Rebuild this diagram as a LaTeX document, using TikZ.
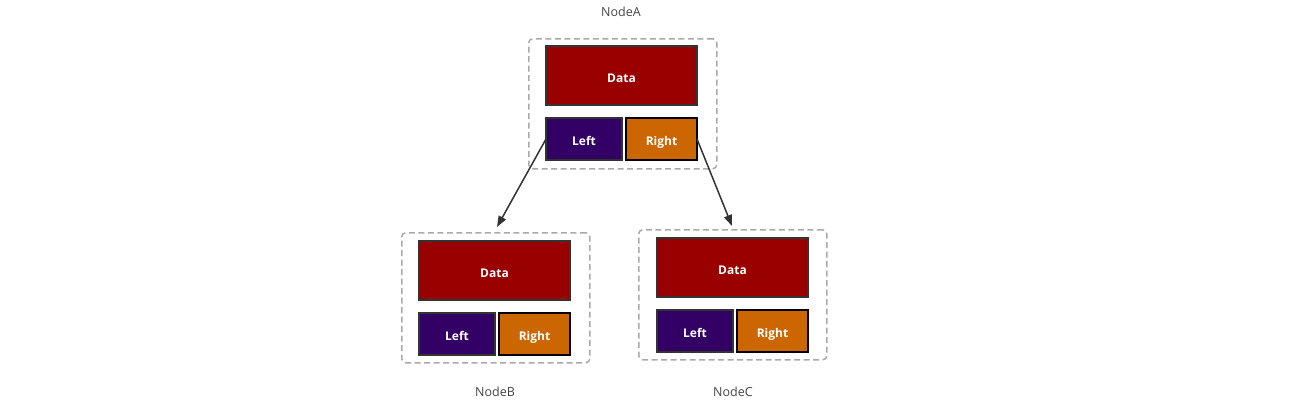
\documentclass[tikz,border=0pt]{standalone}
\usepackage{fontspec}
\setmainfont{Open Sans}
\usetikzlibrary{arrows.meta}
\definecolor{datac}{HTML}{990000}
\definecolor{leftc}{HTML}{330066}
\definecolor{rightc}{HTML}{CC6600}
\definecolor{edgec}{HTML}{333333}
\definecolor{clc}{HTML}{AAAAAA}
\definecolor{labc}{HTML}{444444}
\begin{document}
\begin{tikzpicture}[x=1pt,y=-1pt,
  box/.style={anchor=north west,inner sep=0pt,outer sep=0pt,text=white,
    font=\fontsize{12}{14}\selectfont\bfseries,text height=13pt,text depth=0pt},
  databox/.style={box,fill=datac,draw=edgec,line width=1.4pt,minimum width=151pt,minimum height=59pt},
  leftbox/.style={box,fill=leftc,draw=edgec,line width=1.4pt,minimum width=76pt,minimum height=42pt},
  rightbox/.style={box,fill=rightc,draw=black,line width=1.8pt,minimum width=71pt,minimum height=42pt},
  cluster/.style={anchor=north west,inner sep=0pt,draw=clc,dash pattern=on 6pt off 3.5pt,line width=1.5pt,rounded corners=4pt,minimum width=188pt,minimum height=130pt},
  lab/.style={text=labc,font=\fontsize{12.5}{14}\selectfont},
  arr/.style={draw=edgec,line width=1.5pt,-{Triangle[length=11pt,width=8pt]}}]
\useasboundingbox (0,0) rectangle (1306,400);
% NodeA
\node[cluster] (clA) at (528,38) {};
\node[databox] (DA) at (546,46) {Data};
\node[leftbox] (LA) at (546,118) {Left};
\node[rightbox] (RA) at (626,118) {Right};
\node[lab] (tA) at (621,12) {NodeA};
% NodeB
\node[cluster] (clB) at (401,232) {};
\node[databox] (DB) at (419,241) {Data};
\node[leftbox] (LB) at (419,313) {Left};
\node[rightbox] (RB) at (499,313) {Right};
\node[lab] (tB) at (495,392) {NodeB};
% NodeC
\node[cluster] (clC) at (638,229) {};
\node[databox] (DC) at (657,238) {Data};
\node[leftbox] (LC) at (657,310) {Left};
\node[rightbox] (RC) at (737,310) {Right};
\node[lab] (tC) at (733,392) {NodeC};
% arrows
\coordinate (tipB) at (497,227);
\coordinate (tipC) at (732,226);
\draw[arr] (LA.west) -- (tipB);
\draw[arr] (RA.east) -- (tipC);
\end{tikzpicture}
\end{document}
